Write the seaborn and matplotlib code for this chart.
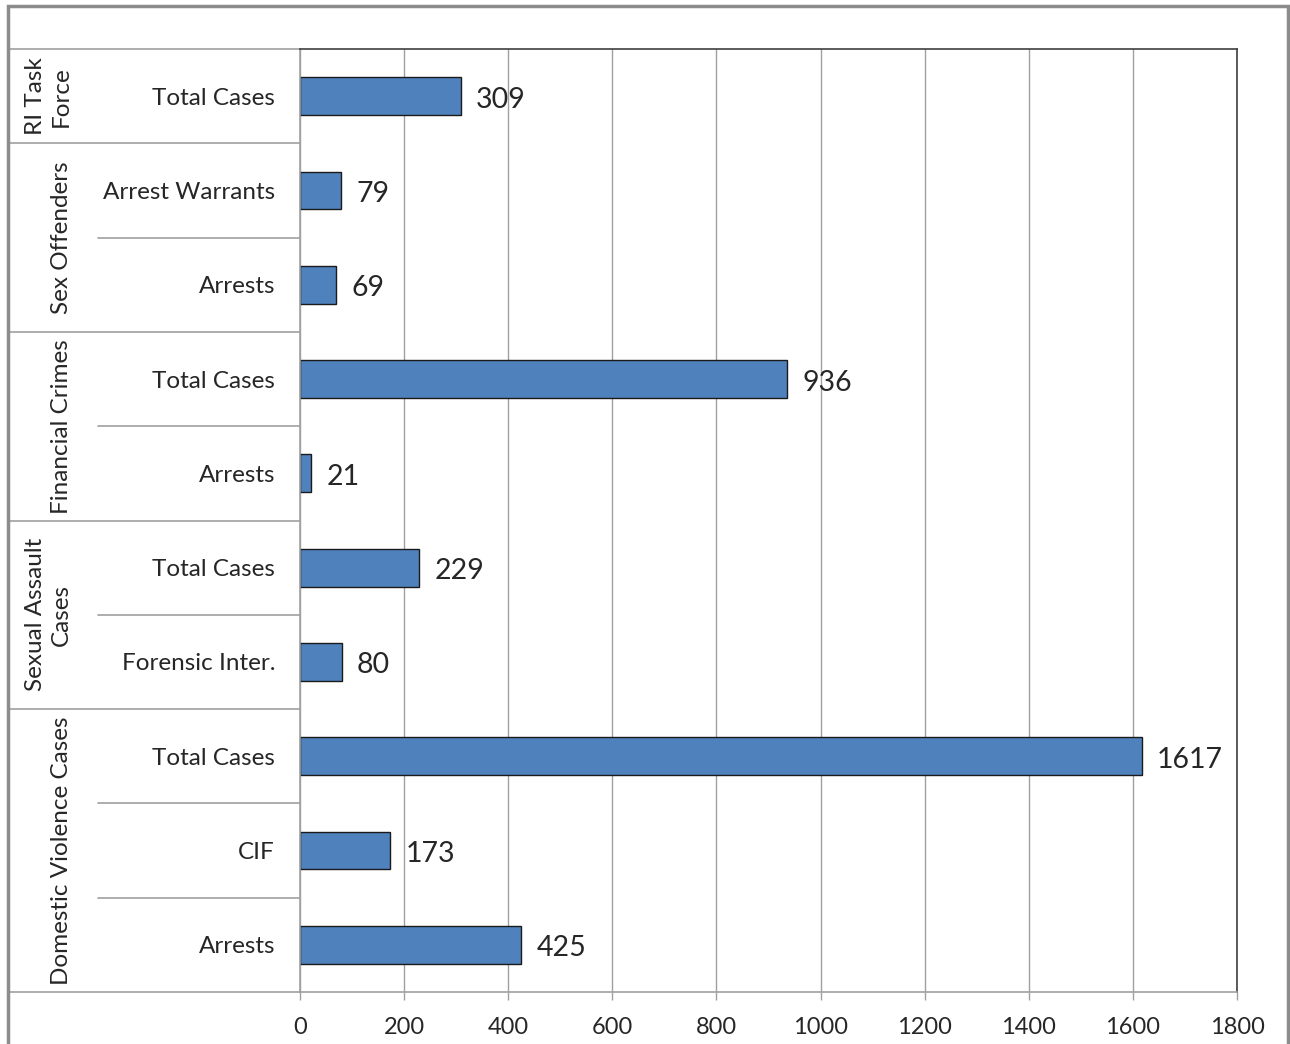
import pandas as pd
import matplotlib.pyplot as plt
import matplotlib.patches as mpatches
import matplotlib.transforms as mtransforms
import seaborn as sns

# Dados (de cima para baixo)
groups = ['RI Task\nForce', 'Sex Offenders', 'Financial Crimes',
          'Sexual Assault\nCases', 'Domestic Violence Cases']
group_sizes = [1, 2, 2, 2, 3]
items = ['Total Cases', 'Arrest Warrants', 'Arrests', 'Total Cases', 'Arrests',
         'Total Cases', 'Forensic Inter.', 'Total Cases', 'CIF', 'Arrests']
values = [309, 79, 69, 936, 21, 229, 80, 1617, 173, 425]
x_ticks = [0, 200, 400, 600, 800, 1000, 1200, 1400, 1600, 1800]

group_col = []
for g, n in zip(groups, group_sizes):
    group_col += [g] * n
df = pd.DataFrame({'Grupo': group_col, 'Item': items, 'Valor': values})
df['Chave'] = [f'{i}_{it}' for i, it in enumerate(items)]

sns.set_style('white')
plt.rcParams['font.family'] = ['Lato', 'DejaVu Sans']

W, H = 1290, 1044
fig = plt.figure(figsize=(W / 100, H / 100), dpi=100)
ax = fig.add_axes([300 / W, 1 - 992 / H, (1237 - 300) / W, (992 - 49) / H])

sns.barplot(data=df, x='Valor', y='Chave', order=df['Chave'], color='#4F81BD',
            saturation=1, width=0.4, edgecolor='#1a1a1a', linewidth=1, ax=ax)

ax.set_xlim(0, 1800)
ax.set_ylim(9.5, -0.5)
ax.set_xticks(x_ticks)
ax.set_xticklabels([str(t) for t in x_ticks], fontsize=17)
ax.set_yticks(range(len(items)))
ax.set_yticklabels(items, fontsize=17.5)
ax.set_xlabel('')
ax.set_ylabel('')
ax.tick_params(axis='y', length=0, pad=18)
ax.tick_params(axis='x', length=6, width=1, color='#a0a0a0', pad=12, direction='out', bottom=True)

ax.grid(axis='x', color='#a0a0a0', linewidth=1)
ax.set_axisbelow(True)
for side in ['top', 'right']:
    ax.spines[side].set_color('#404040')
    ax.spines[side].set_linewidth(1.2)
for side in ['left', 'bottom']:
    ax.spines[side].set_color('#a0a0a0')
    ax.spines[side].set_linewidth(1.2)

# Rótulos de dados
for c in ax.containers:
    anns = ax.bar_label(c, labels=[str(v) for v in values], padding=11, fontsize=20.5)
    for a in anns:
        a.xyann = (11, -2.5)

# Linhas da tabela de categorias
trans = mtransforms.blended_transform_factory(ax.transAxes, ax.transData)
x_outer = (8 - 300) / (1237 - 300)
x_inner = (98 - 300) / (1237 - 300)
bounds = [-0.5]
pos = -0.5
for n in group_sizes:
    pos += n
    bounds.append(pos)
for b in bounds:
    ax.plot([x_outer, 0], [b, b], transform=trans, color='#a0a0a0', lw=1.2, clip_on=False)
start = -0.5
for n in group_sizes:
    for k in range(1, n):
        ax.plot([x_inner, 0], [start + k, start + k], transform=trans,
                color='#a0a0a0', lw=1.2, clip_on=False)
    start += n

# Rótulos dos grupos
x_grp = (72 - 300) / (1237 - 300)
start = -0.5
for g, n in zip(groups, group_sizes):
    ax.text(x_grp, start + n / 2, g, transform=trans, rotation=90, ha='right',
            va='center', multialignment='center', fontsize=17.5, linespacing=1.3)
    start += n

# Moldura externa
frame = mpatches.Rectangle((8 / W, -0.02), (1288 - 8) / W, 1 - 6 / H + 0.02,
                           transform=fig.transFigure, fill=False,
                           edgecolor='#8c8c8c', linewidth=2.5)
fig.patches.append(frame)

fig.savefig('out.png', dpi=100)
